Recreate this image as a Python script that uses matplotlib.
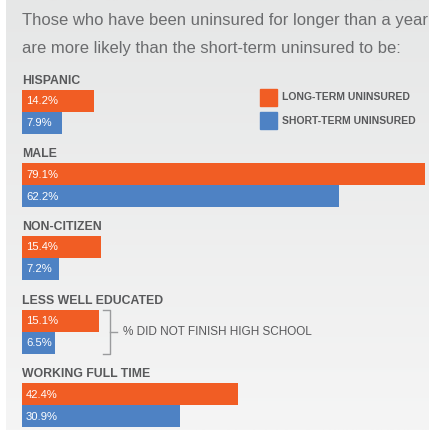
import numpy as np
import matplotlib.pyplot as plt
from matplotlib.colors import LinearSegmentedColormap
from matplotlib.patches import Rectangle

plt.rcParams['font.family'] = ['Liberation Sans', 'DejaVu Sans']

categories = ['HISPANIC', 'MALE', 'NON-CITIZEN', 'LESS WELL EDUCATED', 'WORKING FULL TIME']
long_term = [14.2, 79.1, 15.4, 15.1, 42.4]
short_term = [7.9, 62.2, 7.2, 6.5, 30.9]
legend_labels = ['LONG-TERM UNINSURED', 'SHORT-TERM UNINSURED']
title_lines = ['Those who have been uninsured for longer than a year',
               'are more likely than the short-term uninsured to be:']
bracket_note = '% DID NOT FINISH HIGH SCHOOL'

ORANGE = '#f15d24'
BLUE = '#4e82c4'
TEXT = '#58595b'

W, H = 429, 437
PX = 5.1          # pixels per percentage point
X0 = 22           # left edge of bars in pixels

fig = plt.figure(figsize=(W / 100, H / 100), dpi=100)
ax = fig.add_axes([0, 0, 1, 1])
xlim = (-X0 / PX, (W - X0) / PX)
renderer = fig.canvas.get_renderer()


def px(x):
    return (x - X0) / PX


def fit(texts, width):
    # scale a group of texts so the first one spans `width` pixels
    w = texts[0].get_window_extent(renderer).width
    for t in texts:
        t.set_fontsize(t.get_fontsize() * width / w)


# soft grey panel, slightly lighter towards the bottom
grad = np.linspace(0, 1, 256).reshape(-1, 1)
bg = LinearSegmentedColormap.from_list('bg', ['#e6e7e7', '#f5f5f5'])
ax.imshow(grad, cmap=bg, extent=(px(6), xlim[1], 430, 0),
          aspect='auto', zorder=0)
ax.set_xlim(*xlim)
ax.set_ylim(H, 0)
ax.axis('off')

title_txt = [ax.text(0, 21 + k * 27, line, fontsize=12, color='#6b6c6e',
                     va='center', ha='left')
             for k, line in enumerate(title_lines)]
fit(title_txt, 405)

group_top = [90, 163, 236, 310, 383]
bar_h = 22
cat_txt, val_txt = [], []
for i, (cat, lt, st) in enumerate(zip(categories, long_term, short_term)):
    y = group_top[i]
    cat_txt.append(ax.text(0, y - 9, cat, fontsize=9, fontweight='bold',
                           color=TEXT, va='center', ha='left'))
    ax.barh(y + bar_h / 2, lt, height=bar_h, left=0, color=ORANGE, zorder=2)
    ax.barh(y + bar_h * 1.5, st, height=bar_h, left=0, color=BLUE, zorder=3)
    val_txt.append(ax.text(px(26), y + bar_h / 2 + 0.5, f'{lt}%', fontsize=9,
                           color='white', va='center', ha='left', zorder=4))
    val_txt.append(ax.text(px(26), y + bar_h * 1.5 + 0.5, f'{st}%', fontsize=9,
                           color='white', va='center', ha='left', zorder=4))
fit(cat_txt, 58)
fit(val_txt, 32)

# legend
leg_txt = []
for j, (lab, col) in enumerate(zip(legend_labels, [ORANGE, BLUE])):
    ly = 89 + j * 23
    ax.add_patch(Rectangle((px(260), ly), 17 / PX, 17, color=col, zorder=2))
    leg_txt.append(ax.text(px(282), ly + 8.5, lab, fontsize=8, fontweight='bold',
                           color=TEXT, va='center', ha='left'))
fit(leg_txt, 128)

# bracket beside the education bars
yt, yb = group_top[3], group_top[3] + 2 * bar_h
ym = (yt + yb) / 2
ax.plot([px(103), px(110), px(110), px(103)], [yt, yt, yb, yb],
        color='#9a9b9d', lw=1)
ax.plot([px(110), px(117)], [ym, ym], color='#9a9b9d', lw=1)
note = ax.text(px(123), ym, bracket_note, fontsize=9, color=TEXT,
               va='center', ha='left')
fit([note], 189)

fig.savefig('out.png', dpi=100, facecolor='white')
